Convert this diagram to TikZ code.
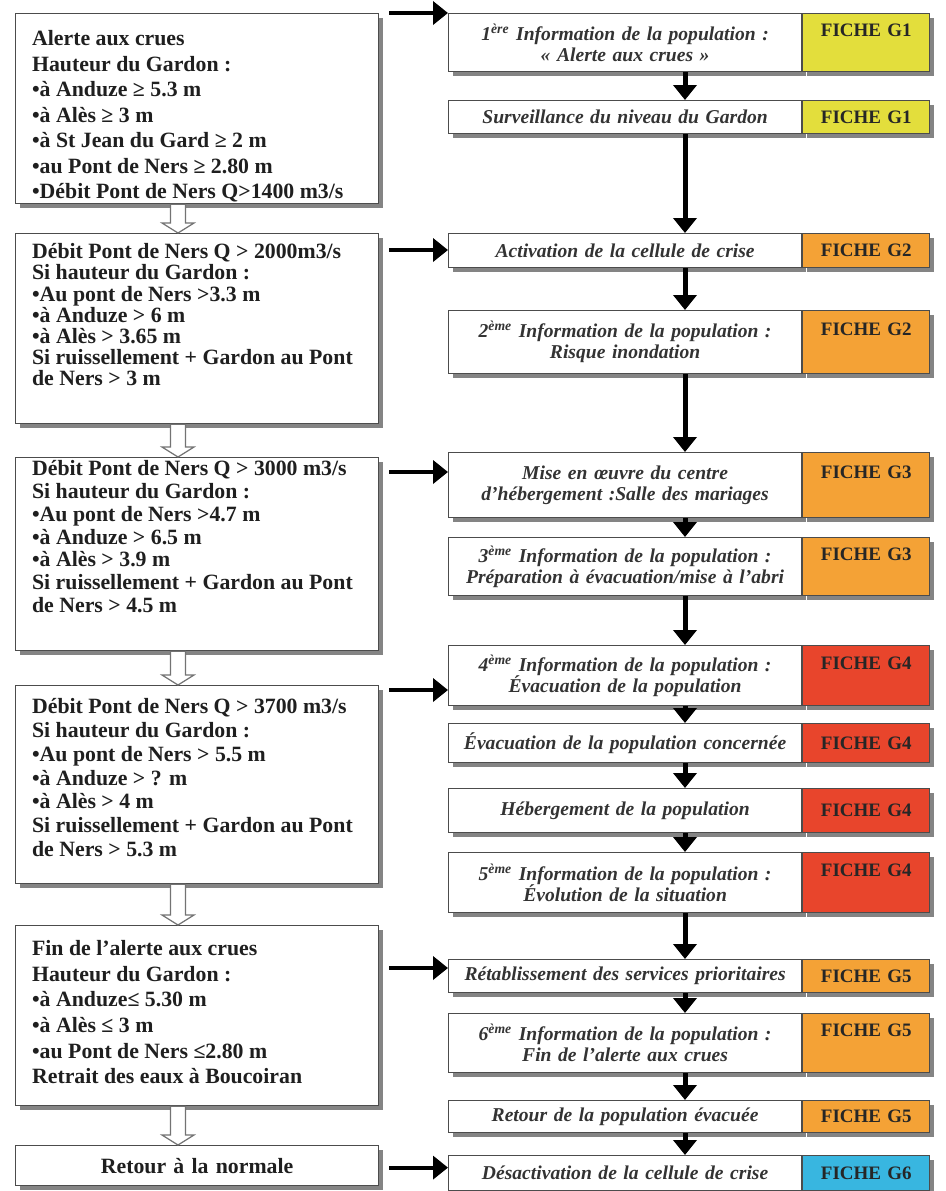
\documentclass[tikz,border=0pt]{standalone}
\usepackage{fontspec}
\setmainfont{Liberation Serif}
\usetikzlibrary{arrows.meta,shadows,calc}
\definecolor{ficheY}{HTML}{E3DE3C}
\definecolor{ficheO}{HTML}{F4A236}
\definecolor{ficheR}{HTML}{E8452C}
\definecolor{ficheB}{HTML}{38B6E0}
\newcommand\leftfont[1]{\fontsize{10.9pt}{#1}\selectfont\bfseries\color{black!88}}
\newcommand\rtxt{\fontsize{9.8pt}{10.5pt}\selectfont\bfseries\itshape\color{black!80}}
\newcommand\ftxt{\fontsize{9.5pt}{10.5pt}\selectfont\bfseries\color{black!85}}
\newcommand\lcontent[4]{\parbox[c][#1][t]{165pt}{\raggedright\leftfont{#3}\vspace*{#2}#4}}
\tikzset{
  shad/.style={drop shadow={shadow xshift=2pt,shadow yshift=-2pt,fill=black!60,opacity=0.8}},
  lbox/.style={shad,draw=black!70,line width=0.6pt,fill=white,anchor=north west,
    minimum width=181.5pt,inner xsep=8.25pt,inner ysep=0pt},
  rbox/.style={shad,draw=black!70,line width=0.6pt,fill=white,anchor=north west,
    minimum width=176.5pt,text width=170pt,align=center,inner xsep=3.25pt,inner ysep=0pt,font=\rtxt},
  ficbox/.style={shad,draw=black!70,line width=0.6pt,anchor=north west,
    minimum width=63.5pt,text width=57pt,align=center,inner xsep=3.25pt,inner ysep=0pt,font=\ftxt},
  barrow/.style={draw=black,line width=2.5pt,-{Triangle[width=11.5pt,length=7.5pt]}},
  harrow/.style={barrow,line width=2pt},
  hollow/.style={draw=black!55,line width=0.6pt,fill=white},
}
\newcommand\hollowarr[2]{%
  \draw[hollow] let \p1=(#1.south -| hx), \p2=(#2.north -| hx) in
    (\x1-3.75pt,\y1) -- (\x1-3.75pt,\y2+5pt) -- (\x1-8pt,\y2+5pt) -- (\x1,\y2)
    -- (\x1+8pt,\y2+5pt) -- (\x1+3.75pt,\y2+5pt) -- (\x1+3.75pt,\y1) -- cycle;}
\newcommand\fiche[4]{\node[ficbox,fill=#2,minimum height=#3] (F#1) at (R#1.north east) {#4};}
\begin{document}
\begin{tikzpicture}[x=0.5pt,y=-0.5pt]
\fill[white] (0,0) rectangle (946,1191);
\useasboundingbox (0,0) rectangle (946,1191);
\coordinate (hx) at (178,0);
\coordinate (ax) at (685,0);
% ---------------- left column
\node[lbox,minimum height=95pt] (L1) at (15,13) {\lcontent{95pt}{8.5pt}{12.75pt}{%
Alerte aux crues\\
Hauteur du Gardon :\\
•à Anduze ≥ 5.3 m\\
•à Alès ≥ 3 m\\
•à St Jean du Gard ≥ 2 m\\
•au Pont de Ners ≥ 2.80 m\\
•Débit Pont de Ners Q>1400 m3/s}};
\node[lbox,minimum height=95pt] (L2) at (15,233) {\lcontent{95pt}{5pt}{10.6pt}{%
Débit Pont de Ners Q > 2000m3/s\\
Si hauteur du Gardon :\\
•Au pont de Ners >3.3 m\\
•à Anduze > 6 m\\
•à Alès > 3.65 m\\
Si ruissellement + Gardon au Pont\\
de Ners > 3 m}};
\node[lbox,minimum height=96.5pt] (L3) at (15,457) {\lcontent{96.5pt}{1.5pt}{11.4pt}{%
Débit Pont de Ners Q > 3000 m3/s\\
Si hauteur du Gardon :\\
•Au pont de Ners >4.7 m\\
•à Anduze > 6.5 m\\
•à Alès > 3.9 m\\
Si ruissellement + Gardon au Pont\\
de Ners > 4.5 m}};
\node[lbox,minimum height=99pt] (L4) at (15,685) {\lcontent{99pt}{6.5pt}{11.9pt}{%
Débit Pont de Ners Q > 3700 m3/s\\
Si hauteur du Gardon :\\
•Au pont de Ners > 5.5 m\\
•à Anduze > ? m\\
•à Alès > 4 m\\
Si ruissellement + Gardon au Pont\\
de Ners > 5.3 m}};
\node[lbox,minimum height=90pt] (L5) at (15,925) {\lcontent{90pt}{7.5pt}{12.8pt}{%
Fin de l'alerte aux crues\\
Hauteur du Gardon :\\
•à Anduze≤ 5.30 m\\
•à Alès ≤ 3 m\\
•au Pont de Ners ≤2.80 m\\
Retrait des eaux à Boucoiran}};
\node[lbox,minimum height=20pt,text width=165pt,align=center,font=\leftfont{12pt}] (L6) at (15,1145) {Retour à la normale};
% ---------------- right column
\node[rbox,minimum height=29pt] (R1) at (448,13) {1\textsuperscript{ère} Information de la population :\\« Alerte aux crues »};
\fiche{1}{ficheY}{29pt}{FICHE G1\\\phantom{Ag}}
\node[rbox,minimum height=16.5pt] (R2) at (448,100) {Surveillance du niveau du Gardon};
\fiche{2}{ficheY}{16.5pt}{FICHE G1}
\node[rbox,minimum height=17pt] (R3) at (448,233) {Activation de la cellule de crise};
\fiche{3}{ficheO}{17pt}{FICHE G2}
\node[rbox,minimum height=31.5pt] (R4) at (448,310) {2\textsuperscript{ème} Information de la population :\\Risque inondation};
\fiche{4}{ficheO}{31.5pt}{FICHE G2\\\phantom{Ag}}
\node[rbox,minimum height=32.5pt] (R5) at (448,452) {Mise en œuvre du centre\\d'hébergement :Salle des mariages};
\fiche{5}{ficheO}{32.5pt}{FICHE G3\\\phantom{Ag}}
\node[rbox,minimum height=29pt] (R6) at (448,537) {3\textsuperscript{ème} Information de la population :\\Préparation à évacuation/mise à l'abri};
\fiche{6}{ficheO}{29pt}{FICHE G3\\\phantom{Ag}}
\node[rbox,minimum height=30pt] (R7) at (448,645) {4\textsuperscript{ème} Information de la population :\\Évacuation de la population};
\fiche{7}{ficheR}{30pt}{FICHE G4\\\phantom{Ag}}
\node[rbox,minimum height=19.5pt] (R8) at (448,723) {Évacuation de la population concernée};
\fiche{8}{ficheR}{19.5pt}{FICHE G4}
\node[rbox,minimum height=22pt] (R9) at (448,788) {Hébergement de la population};
\fiche{9}{ficheR}{22pt}{FICHE G4}
\node[rbox,minimum height=30pt] (R10) at (448,852) {5\textsuperscript{ème} Information de la population :\\Évolution de la situation};
\fiche{10}{ficheR}{30pt}{FICHE G4\\\phantom{Ag}}
\node[rbox,minimum height=16.5pt] (R11) at (448,959) {Rétablissement des services prioritaires};
\fiche{11}{ficheO}{16.5pt}{FICHE G5}
\node[rbox,minimum height=29.5pt] (R12) at (448,1013) {6\textsuperscript{ème} Information de la population :\\Fin de l'alerte aux crues};
\fiche{12}{ficheO}{29.5pt}{FICHE G5\\\phantom{Ag}}
\node[rbox,minimum height=16pt] (R13) at (448,1100) {Retour de la population évacuée};
\fiche{13}{ficheO}{16pt}{FICHE G5}
\node[rbox,minimum height=17.5pt] (R14) at (448,1155) {Désactivation de la cellule de crise};
\fiche{14}{ficheB}{17.5pt}{FICHE G6}
% ---------------- hollow arrows (left column)
\hollowarr{L1}{L2}
\hollowarr{L2}{L3}
\hollowarr{L3}{L4}
\hollowarr{L4}{L5}
\hollowarr{L5}{L6}
% ---------------- vertical arrows (right column)
\foreach \a/\b in {1/2,2/3,3/4,4/5,5/6,6/7,7/8,8/9,9/10,10/11,11/12,12/13,13/14}
  \draw[barrow] (R\a.south -| ax) -- (R\b.north -| ax);
% ---------------- horizontal arrows
\coordinate (h1) at ($(L1.north east)+(10,0)$);
\coordinate (h2) at ($(L2.north east)+(10,17)$);
\coordinate (h3) at ($(L3.north east)+(10,15)$);
\coordinate (h4) at ($(L4.north east)+(10,5)$);
\coordinate (h5) at ($(L5.north east)+(10,43)$);
\coordinate (h6) at ($(L6.east)+(10,2)$);
\draw[harrow] (h1) -- (h1 -| R1.west);
\draw[harrow] (h2) -- (h2 -| R3.west);
\draw[harrow] (h3) -- (h3 -| R5.west);
\draw[harrow] (h4) -- (h4 -| R7.west);
\draw[harrow] (h5) -- (h5 -| R11.west);
\draw[harrow] (h6) -- (h6 -| R14.west);
\end{tikzpicture}
\end{document}
